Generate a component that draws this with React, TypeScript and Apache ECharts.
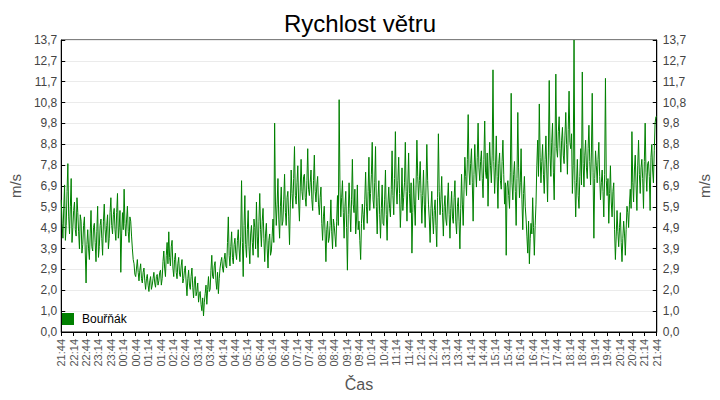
import React, { useEffect, useRef } from "react";
import * as echarts from "echarts";

const chartTitle = "Rychlost větru";
const seriesName = "Bouřňák";
const yUnit = "m/s";
const xName = "Čas";

// one reading every 2 minutes, starting 21:44
const sampleMinutes = 2;

const xTickLabels = [
  "21:44", "22:14", "22:44", "23:14", "23:44", "00:14", "00:44", "01:14", "01:44", "02:14",
  "02:44", "03:14", "03:44", "04:14", "04:44", "05:14", "05:44", "06:14", "06:44", "07:14",
  "07:44", "08:14", "08:44", "09:14", "09:44", "10:14", "10:44", "11:14", "11:44", "12:14",
  "12:44", "13:14", "13:44", "14:14", "14:44", "15:14", "15:44", "16:14", "16:44", "17:14",
  "17:44", "18:14", "18:44", "19:14", "19:44", "20:14", "20:44", "21:14", "21:44",
];

const yTickLabels = [
  "0,0", "1,0", "2,0", "2,9", "3,9", "4,9", "5,9", "6,9", "7,8", "8,8", "9,8", "10,8", "11,7", "12,7", "13,7",
];

// 21:44 – 03:42
const windBlock1 = [
  6.2, 5.1, 4.4, 5.8, 6.9, 4.3, 5.0, 6.6, 7.9, 5.4, 4.6, 5.9, 7.2, 4.2, 4.9, 5.7, 6.1, 4.8, 4.5, 6.3, 5.6, 4.7, 3.9, 5.5, 5.2, 3.7, 4.1, 5.0, 5.4, 3.8,
  2.3, 4.1, 4.8, 3.9, 3.4, 4.6, 5.7, 4.0, 3.8, 4.9, 5.1, 4.2, 3.3, 4.7, 5.9, 3.5, 4.0, 5.0, 5.3, 4.4, 3.6, 5.2, 6.0, 4.8, 4.2, 5.0, 5.5, 3.9, 4.4, 5.6,
  6.3, 5.0, 4.6, 5.5, 5.8, 4.8, 4.3, 5.6, 6.5, 4.4, 4.9, 5.7, 2.8, 4.6, 5.6, 4.8, 6.7, 5.1, 4.5, 5.3, 5.9, 4.7, 4.2, 5.4, 5.2, 4.5, 3.9, 3.4, 3.2, 2.7,
  2.6, 3.0, 3.4, 2.8, 2.4, 2.9, 3.2, 2.5, 2.3, 2.8, 3.0, 2.4, 2.0, 2.5, 2.7, 2.2, 1.9, 2.4, 2.6, 2.0, 2.2, 2.5, 2.8, 2.3, 2.1, 2.6, 2.7, 2.2, 2.4, 2.8,
  2.9, 2.2, 2.5, 3.3, 3.8, 3.0, 2.6, 3.6, 4.2, 3.2, 4.7, 3.5, 3.1, 4.0, 4.3, 3.0, 2.6, 3.4, 3.7, 2.8, 2.5, 3.2, 3.5, 2.7, 2.6, 3.1, 3.4, 2.3, 2.5, 2.9,
  3.1, 2.3, 1.7, 2.5, 2.9, 2.2, 2.0, 2.6, 3.0, 2.1, 1.6, 2.4, 2.6, 1.7, 1.9, 2.3, 1.4, 1.8, 1.9, 1.3, 1.0, 1.6, 0.75, 1.4, 1.8, 2.2, 1.3, 2.0, 2.6, 1.9,
];

// 03:44 – 09:42
const windBlock2 = [
  2.0, 2.9, 3.6, 2.6, 2.5, 3.1, 3.3, 2.4, 2.0, 2.8, 1.8, 2.5, 3.0, 3.3, 3.5, 3.0, 2.8, 3.4, 3.7, 3.1, 3.0, 4.2, 5.4, 3.6, 3.1, 4.0, 4.7, 3.5, 3.2, 4.1,
  4.4, 3.7, 3.4, 4.3, 4.8, 3.9, 3.3, 4.5, 7.1, 4.2, 2.6, 5.0, 6.4, 4.1, 3.5, 4.8, 5.7, 4.0, 3.2, 4.6, 5.0, 4.2, 3.6, 5.3, 4.9, 3.9, 6.1, 4.5, 3.5, 5.2,
  6.5, 4.8, 4.0, 5.2, 5.8, 4.4, 3.3, 4.6, 5.1, 3.9, 3.0, 4.3, 4.6, 3.6, 3.8, 4.5, 5.3, 4.2, 9.8, 6.1, 5.0, 6.0, 7.2, 5.3, 4.4, 5.9, 6.8, 5.0, 5.2, 6.2,
  7.4, 5.6, 5.0, 6.3, 6.6, 5.4, 4.1, 6.0, 7.6, 6.5, 5.8, 7.2, 8.7, 6.4, 6.0, 7.0, 7.8, 6.1, 5.2, 6.8, 8.1, 6.6, 6.2, 7.3, 7.4, 6.3, 5.9, 7.1, 8.6, 6.7,
  6.4, 7.0, 7.6, 6.2, 5.7, 7.1, 8.3, 6.6, 6.1, 6.9, 7.3, 6.0, 5.5, 6.3, 6.8, 5.1, 4.3, 5.4, 5.9, 4.6, 3.3, 4.8, 5.2, 4.2, 4.4, 5.0, 6.2, 4.7, 3.9, 5.3,
  5.0, 4.5, 4.0, 5.2, 6.4, 5.0, 10.9, 6.8, 5.4, 6.3, 7.1, 5.6, 4.4, 5.9, 6.6, 4.9, 2.9, 5.5, 7.0, 5.8, 4.7, 6.2, 8.1, 6.0, 5.6, 6.7, 4.6, 5.3, 6.9, 4.8,
];

// 09:44 – 15:42
const windBlock3 = [
  5.2, 4.3, 3.4, 5.1, 6.0, 5.5, 4.8, 6.2, 7.5, 5.9, 5.1, 6.6, 8.2, 5.7, 6.5, 7.4, 8.9, 6.2, 5.8, 7.0, 8.7, 5.9, 4.6, 6.3, 7.1, 5.5, 4.4, 5.8, 6.9, 5.1,
  5.0, 6.2, 7.6, 5.5, 4.3, 6.0, 6.8, 5.8, 5.4, 6.7, 8.5, 6.4, 5.5, 7.2, 9.4, 6.8, 6.0, 7.1, 8.2, 6.5, 4.9, 6.0, 7.7, 5.7, 6.3, 7.0, 8.9, 6.6, 5.2, 6.9,
  8.4, 6.5, 5.6, 7.0, 3.7, 5.6, 7.2, 6.0, 5.0, 6.9, 9.0, 7.3, 6.2, 7.1, 8.0, 6.5, 5.1, 6.4, 7.6, 6.0, 4.9, 6.8, 8.8, 7.1, 6.0, 5.3, 4.2, 5.8, 6.6, 5.4,
  4.6, 5.7, 6.2, 5.0, 4.0, 6.3, 9.3, 6.6, 5.5, 6.2, 7.3, 5.6, 4.5, 5.9, 6.4, 5.3, 5.0, 6.1, 7.0, 5.5, 4.4, 5.8, 6.6, 5.4, 5.1, 6.3, 7.1, 5.2, 4.6, 5.9,
  6.3, 5.2, 3.9, 5.8, 7.4, 6.0, 5.0, 6.7, 8.2, 7.3, 6.4, 8.1, 10.2, 7.6, 6.9, 7.9, 8.6, 7.0, 5.2, 7.4, 8.8, 7.6, 6.8, 8.2, 9.8, 7.7, 7.1, 8.0, 8.5, 7.2,
  6.3, 8.1, 9.9, 7.5, 7.2, 8.4, 5.9, 7.6, 8.9, 7.8, 7.0, 8.3, 12.3, 8.0, 6.5, 7.7, 9.2, 7.3, 5.8, 7.9, 8.4, 7.1, 6.7, 8.0, 9.0, 7.4, 6.0, 7.0, 3.6, 6.8,
];

// 15:44 – 21:44
const windBlock4 = [
  7.1, 6.4, 5.8, 7.5, 11.2, 7.0, 6.2, 7.4, 8.0, 6.6, 5.0, 7.2, 10.3, 7.7, 6.3, 7.0, 8.6, 6.2, 4.8, 6.5, 7.3, 5.9, 5.3, 4.5, 3.7, 5.2, 3.2, 4.4, 5.1, 4.6,
  6.3, 4.9, 3.6, 5.0, 6.0, 7.8, 9.0, 7.3, 10.7, 8.2, 7.0, 8.0, 8.8, 7.4, 6.5, 8.1, 9.2, 7.6, 6.1, 8.4, 11.8, 8.3, 7.3, 8.9, 9.8, 7.5, 6.2, 8.7, 12.1, 8.6,
  8.2, 9.4, 10.1, 8.6, 7.5, 9.0, 9.6, 8.3, 7.9, 9.2, 10.3, 8.8, 7.4, 9.5, 11.3, 8.9, 8.6, 9.3, 6.5, 7.8, 13.7, 7.1, 5.4, 7.0, 8.1, 6.4, 5.8, 7.3, 8.6, 6.9,
  12.2, 7.9, 6.8, 8.3, 9.0, 7.7, 7.2, 8.6, 9.7, 8.0, 6.9, 8.4, 11.2, 7.5, 4.4, 7.2, 8.5, 7.8, 7.0, 8.1, 8.9, 7.3, 6.2, 7.0, 7.6, 6.6, 5.4, 7.4, 11.9, 7.1,
  6.4, 7.2, 5.1, 6.5, 7.8, 6.1, 5.4, 6.6, 7.0, 4.8, 3.4, 4.5, 5.7, 4.7, 4.0, 4.9, 5.6, 4.2, 3.3, 4.4, 5.2, 4.6, 3.6, 4.8, 5.9, 5.6, 4.9, 6.0, 6.7, 5.8,
  9.4, 7.0, 6.1, 7.6, 8.3, 6.9, 5.7, 7.8, 9.0, 7.4, 6.5, 7.7, 8.1, 7.2, 5.8, 8.0, 9.8, 7.5, 6.6, 7.9, 8.0, 7.3, 5.7, 8.2, 8.8, 7.6, 7.0, 8.5, 9.8, 10.1,
  10.1,
];

const windSpeed = [...windBlock1, ...windBlock2, ...windBlock3, ...windBlock4];

const Y_MAX = 13.7;
const Y_INTERVAL = Y_MAX / (yTickLabels.length - 1);
const X_INTERVAL = 30;
const X_MAX = X_INTERVAL * (xTickLabels.length - 1);
const FONT = "Liberation Sans, Arial, sans-serif";

const yLabel = (v: number) => yTickLabels[Math.round(v / Y_INTERVAL)] ?? "";
const xLabel = (v: number) => xTickLabels[Math.round(v / X_INTERVAL)] ?? "";

export default function App() {
  const ref = useRef<HTMLDivElement>(null);

  useEffect(() => {
    if (!ref.current) return;
    const chart = echarts.init(ref.current, undefined, { renderer: "svg" });
    const yBase = {
      type: "value" as const,
      min: 0,
      max: Y_MAX,
      interval: Y_INTERVAL,
      name: yUnit,
      nameLocation: "middle" as const,
      nameTextStyle: { color: "#555", fontSize: 15, fontFamily: FONT },
      axisLine: { show: true, lineStyle: { color: "#000", width: 1 } },
      axisTick: { show: true, inside: true, length: 4, lineStyle: { color: "#000" } },
    };
    chart.setOption({
      animation: false,
      backgroundColor: "#fff",
      title: {
        text: chartTitle,
        left: "center",
        top: 11,
        padding: 0,
        textStyle: { fontSize: 24, fontWeight: "normal", color: "#000", fontFamily: FONT },
      },
      legend: {
        left: 62,
        top: 313,
        padding: 0,
        icon: "rect",
        itemWidth: 12,
        itemHeight: 12,
        textStyle: { fontSize: 12, color: "#000", fontFamily: FONT, padding: [0, 0, 0, 3] },
        data: [seriesName],
      },
      grid: {
        left: 55,
        right: 56,
        top: 40,
        bottom: 68,
        show: true,
        borderColor: "#000",
        borderWidth: 1,
      },
      xAxis: {
        type: "value",
        min: 0,
        max: X_MAX,
        interval: X_INTERVAL,
        name: xName,
        nameLocation: "middle",
        nameGap: 44,
        nameTextStyle: { color: "#555", fontSize: 16, fontFamily: FONT },
        axisLine: { show: true, lineStyle: { color: "#000" } },
        axisTick: { show: true, length: 4, lineStyle: { color: "#000" } },
        splitLine: { show: false },
        axisLabel: {
          rotate: 90,
          margin: 7,
          fontSize: 11,
          color: "#555",
          fontFamily: FONT,
          formatter: xLabel,
        },
      },
      yAxis: [
        {
          ...yBase,
          position: "left",
          nameGap: 34,
          splitLine: { show: true, lineStyle: { color: "#ebebeb" } },
          axisLabel: { margin: 4, fontSize: 12, color: "#444", fontFamily: FONT, formatter: yLabel },
        },
        {
          ...yBase,
          position: "right",
          nameGap: 40,
          splitLine: { show: false },
          axisLabel: { margin: 6, fontSize: 12, color: "#444", fontFamily: FONT, formatter: yLabel },
        },
      ],
      series: [
        {
          name: seriesName,
          type: "line",
          yAxisIndex: 0,
          showSymbol: false,
          symbol: "none",
          color: "#008000",
          lineStyle: { color: "#008000", width: 1 },
          data: windSpeed.map((v, i) => [i * sampleMinutes, v]),
        },
      ],
    });
    return () => chart.dispose();
  }, []);

  return (
    <div
      ref={ref}
      style={{ position: "fixed", left: 0, top: 0, width: 720, height: 400, background: "#fff" }}
    />
  );
}
